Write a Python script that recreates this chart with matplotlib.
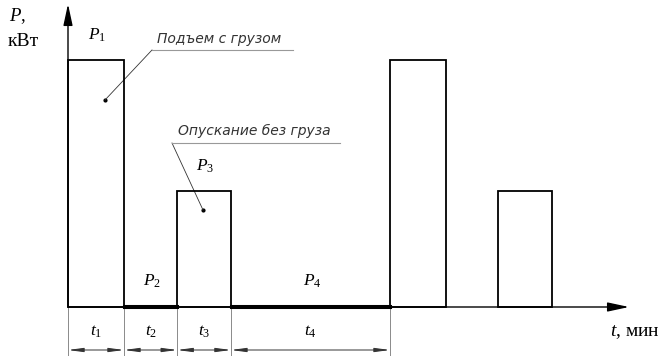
import numpy as np
from matplotlib import pyplot as plt

plt.rcParams["mathtext.fontset"] = "custom"
plt.rcParams["mathtext.rm"] = "Liberation Serif"
plt.rcParams["mathtext.it"] = "Liberation Serif:italic"

# load diagram: segment durations (min) and power (kW)
durations = [1.0, 0.95, 0.96, 2.84, 1.0, 0.92, 0.98]
powers = [10.0, 0.05, 4.7, 0.05, 10.0, 0.0, 4.7]
p_labels = ["$P_1$", "$P_2$", "$P_3$", "$P_4$"]
t_labels = ["$t_1$", "$t_2$", "$t_3$", "$t_4$"]
note_lift = "Подъем с грузом"
note_lower = "Опускание без груза"

W, H = 661, 356
ox, oy = 68, 307          # origin in image pixels (from top-left)
kx, ky = 56.0, 24.7       # pixels per minute / per kW


def px(x, y):
    # image pixel -> data coords
    return (x - ox) / kx, (oy - y) / ky


fig = plt.figure(figsize=(W / 100, H / 100), dpi=100)
ax = fig.add_axes([0, 0, 1, 1])
ax.set_xlim(px(0, 0)[0], px(W, 0)[0])
ax.set_ylim(px(0, H)[1], px(0, 0)[1])
ax.axis("off")

starts = np.concatenate([[0], np.cumsum(durations)[:-1]])
ends = starts + np.array(durations)
powers = np.array(powers)

# bars
drawn = powers > 0
for s, d, p in zip(starts[drawn], np.array(durations)[drawn], powers[drawn]):
    lw = 1.3 if p > 1 else 2.2
    ax.bar(s, p, width=d, align="edge", fill=False, edgecolor="black", lw=lw, zorder=3)

serif = "Liberation Serif"

# axes with arrows
ax.annotate("", xy=px(ox, 4), xytext=(0, 0),
            arrowprops=dict(arrowstyle="-|>,head_length=1.3,head_width=0.28", lw=1.0,
                            color="black", shrinkA=0, shrinkB=0), zorder=4)
ax.annotate("", xy=px(629, oy), xytext=(0, 0),
            arrowprops=dict(arrowstyle="-|>,head_length=1.3,head_width=0.28", lw=1.0,
                            color="black", shrinkA=0, shrinkB=0), zorder=4)

ax.text(*px(9, 16), "$P$,", fontsize=13.5, family=serif, ha="left", va="center")
ax.text(*px(8, 41), "кВт", fontsize=14, family=serif, ha="left", va="center")
ax.text(*px(660, 332), "$t$, мин", fontsize=14, family=serif, ha="right", va="center")

# power labels
for i, lab in enumerate(p_labels):
    x = (starts[i] + ends[i]) / 2
    ax.annotate(lab, (x, powers[i]), xytext=(1, 18), textcoords="offset points",
                ha="center", va="center", fontsize=12.5)

# dimension lines
dim_y = px(0, 350)[1]
bottom = px(0, H)[1]
for i, lab in enumerate(t_labels):
    ax.annotate("", xy=(ends[i], dim_y), xytext=(starts[i], dim_y),
                arrowprops=dict(arrowstyle="<|-|>,head_length=0.9,head_width=0.12", lw=0.7,
                                color="#333333", shrinkA=0, shrinkB=0))
    ax.text((starts[i] + ends[i]) / 2, px(0, 331)[1], lab, fontsize=12.5,
            ha="center", va="center")
for x in np.concatenate([[0], ends[:4]]):
    ax.plot([x, x], [bottom, 0], color="#777777", lw=0.6, zorder=1)

# leader notes
notes = [
    (note_lift, (105, 100), (152, 50), (293, 50), (157, 43)),
    (note_lower, (203, 210), (172, 143), (340, 143), (178, 135)),
]
for text, dot, a, b, tpos in notes:
    ax.plot(*px(*dot), "o", ms=2, color="black")
    xs, ys = zip(px(*dot), px(*a))
    ax.plot(xs, ys, color="#333333", lw=0.6)
    xs, ys = zip(px(*a), px(*b))
    ax.plot(xs, ys, color="#999999", lw=0.8)
    ax.text(*px(*tpos), text, fontsize=10, style="italic", family="DejaVu Sans",
            color="#333333", ha="left", va="baseline")

fig.savefig("out.png", dpi=100)
